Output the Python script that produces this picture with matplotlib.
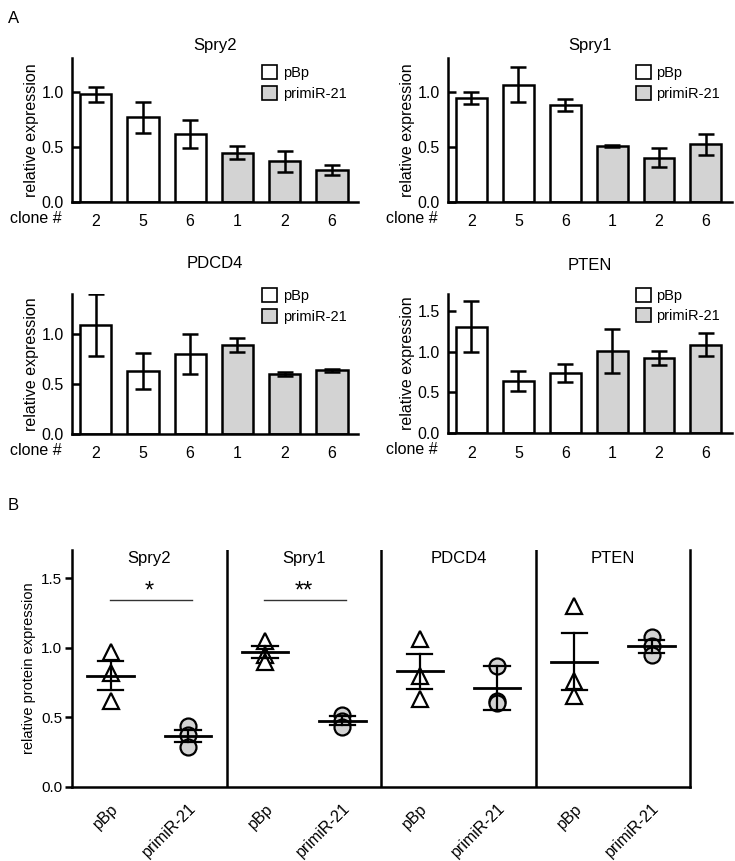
import numpy as np
import matplotlib
matplotlib.use("Agg")
import matplotlib.pyplot as plt
from matplotlib.patches import Patch

plt.rcParams['font.family'] = ['Liberation Sans', 'DejaVu Sans']

# Panel A: qPCR, relative expression per clone
clones = ['2', '5', '6', '1', '2', '6']
groups_a = ['pBp', 'pBp', 'pBp', 'primiR-21', 'primiR-21', 'primiR-21']

spry2_mean = [0.98, 0.77, 0.62, 0.45, 0.37, 0.29]
spry2_err = [0.07, 0.14, 0.125, 0.06, 0.095, 0.045]
spry1_mean = [0.945, 1.067, 0.884, 0.509, 0.405, 0.524]
spry1_err = [0.055, 0.16, 0.052, 0.008, 0.084, 0.096]
pdcd4_mean = [1.083, 0.627, 0.793, 0.887, 0.60, 0.633]
pdcd4_err = [0.31, 0.18, 0.2, 0.072, 0.02, 0.015]
pten_mean = [1.304, 0.636, 0.737, 1.012, 0.919, 1.085]
pten_err = [0.31, 0.12, 0.105, 0.27, 0.085, 0.144]

# Panel B: protein expression, three points per condition
genes_b = ['Spry2', 'Spry1', 'PDCD4', 'PTEN']
pbp_points = [[0.97, 0.82, 0.62], [1.05, 0.95, 0.90], [1.06, 0.80, 0.63], [1.30, 0.76, 0.65]]
mir_points = [[0.44, 0.37, 0.29], [0.52, 0.47, 0.43], [0.87, 0.62, 0.60], [1.08, 1.01, 0.95]]
pbp_mean = [0.80, 0.967, 0.83, 0.90]
pbp_sem = [0.105, 0.044, 0.125, 0.205]
mir_mean = [0.365, 0.475, 0.71, 1.01]
mir_sem = [0.045, 0.033, 0.155, 0.045]
signif = ['*', '**', '', '']

GRAY = '#d3d3d3'
LW = 1.8

fig = plt.figure(figsize=(7.35, 8.61), dpi=100)

def bar_panel(rect, title, means, errs, ymax, yticks, title_y, leg_y):
    ax = fig.add_axes(rect)
    x = np.arange(len(clones))
    colors = ['white' if g == 'pBp' else GRAY for g in groups_a]
    ax.bar(x, means, width=0.66, color=colors, edgecolor='black', linewidth=LW, zorder=2)
    ax.errorbar(x, means, yerr=errs, fmt='none', ecolor='black', elinewidth=LW,
                capsize=6, capthick=LW, zorder=3)
    ax.set_xlim(-0.5, 5.55)
    ax.set_ylim(0, ymax)
    ax.set_yticks(yticks)
    ax.set_yticklabels(['%.1f' % t for t in yticks])
    ax.set_xticks(x)
    ax.set_xticklabels(clones)
    ax.tick_params(axis='y', direction='in', length=6, width=LW, labelsize=11.5, pad=6)
    ax.tick_params(axis='x', length=0, labelsize=11.5, pad=9)
    for s in ['top', 'right']:
        ax.spines[s].set_visible(False)
    for s in ['left', 'bottom']:
        ax.spines[s].set_linewidth(LW)
    ax.set_ylabel('relative expression', fontsize=11.5, labelpad=2)
    ax.text(0.5, title_y, title, transform=ax.transAxes, ha='center', va='center', fontsize=12)
    ax.text(-0.038, -0.118, 'clone #', transform=ax.transAxes, ha='right', va='center', fontsize=11.5)
    handles = [Patch(facecolor='white', edgecolor='black', linewidth=1.2, label='pBp'),
               Patch(facecolor=GRAY, edgecolor='black', linewidth=1.2, label='primiR-21')]
    ax.legend(handles=handles, loc='upper right', frameon=False, fontsize=10.5,
              handlelength=1.0, handleheight=1.1, handletextpad=0.4, labelspacing=0.38,
              borderaxespad=0.0, bbox_to_anchor=(0.98, leg_y))
    return ax

bar_panel([0.098, 0.7654, 0.389, 0.167], 'Spry2', spry2_mean, spry2_err, 1.31, [0.0, 0.5, 1.0], 1.09, 0.99)
bar_panel([0.6095, 0.7654, 0.386, 0.167], 'Spry1', spry1_mean, spry1_err, 1.31, [0.0, 0.5, 1.0], 1.09, 0.99)
bar_panel([0.098, 0.496, 0.389, 0.162], 'PDCD4', pdcd4_mean, pdcd4_err, 1.39, [0.0, 0.5, 1.0], 1.22, 1.085)
bar_panel([0.6095, 0.497, 0.386, 0.162], 'PTEN', pten_mean, pten_err, 1.71, [0.0, 0.5, 1.0, 1.5], 1.20, 1.085)

# Panel B
axb = fig.add_axes([0.098, 0.086, 0.841, 0.275])
xt = []
xl = []
for i, g in enumerate(genes_b):
    xp = 4 * i + 1
    xm = 4 * i + 3
    xt += [xp, xm]
    xl += ['pBp', 'primiR-21']
    axb.plot([xp] * 3, pbp_points[i], linestyle='none', marker='^', markersize=11.5,
             markerfacecolor='white', markeredgecolor='black', markeredgewidth=1.6, zorder=3)
    axb.plot([xm] * 3, mir_points[i], linestyle='none', marker='o', markersize=11.5,
             markerfacecolor=GRAY, markeredgecolor='black', markeredgewidth=1.6, zorder=3)
    for xx, m, s in [(xp, pbp_mean[i], pbp_sem[i]), (xm, mir_mean[i], mir_sem[i])]:
        axb.plot([xx - 0.6, xx + 0.6], [m, m], color='black', lw=2, zorder=4)
        axb.plot([xx, xx], [m - s, m + s], color='black', lw=1.6, zorder=4)
        for yy in [m - s, m + s]:
            axb.plot([xx - 0.33, xx + 0.33], [yy, yy], color='black', lw=1.6, zorder=4)
    axb.text(4 * i + 2, 1.64, g, ha='center', va='center', fontsize=12)
    if signif[i]:
        axb.plot([xp - 0.03, xm + 0.1], [1.34, 1.34], color='#333333', lw=1)
        axb.text(4 * i + 2, 1.40, signif[i], ha='center', va='center', fontsize=17)
    if i > 0:
        axb.axvline(4 * i, color='black', lw=LW)

axb.set_xlim(0, 16)
axb.set_ylim(0, 1.7)
axb.set_yticks([0.0, 0.5, 1.0, 1.5])
axb.set_yticklabels(['0.0', '0.5', '1.0', '1.5'])
axb.set_xticks(xt)
axb.set_xticklabels(xl, rotation=45, ha='right', rotation_mode='anchor')
axb.tick_params(axis='y', direction='out', length=5, width=LW, labelsize=11, pad=2)
axb.tick_params(axis='x', length=0, labelsize=11.5, pad=10)
axb.spines['top'].set_visible(False)
for s in ['left', 'bottom', 'right']:
    axb.spines[s].set_linewidth(LW)
axb.set_ylabel('relative protein expression', fontsize=10.5)

fig.text(0.011, 0.979, 'A', fontsize=12, ha='left', va='center')
fig.text(0.011, 0.413, 'B', fontsize=12, ha='left', va='center')

fig.savefig('out.png', dpi=100)
